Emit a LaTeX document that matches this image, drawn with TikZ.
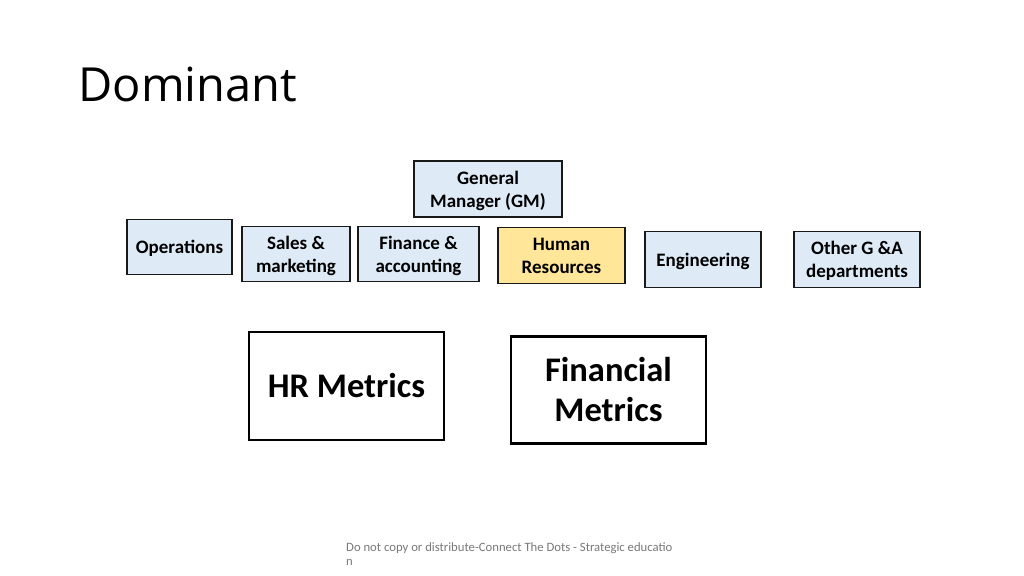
\documentclass[tikz,border=0pt]{standalone}
\usepackage{fontspec}
\setmainfont{Carlito}
\newfontfamily\titlefont{Open Sans}
\usetikzlibrary{positioning}
\tikzset{every node/.append style={align=center}}
\definecolor{deptcolor}{RGB}{222, 235, 247}
\definecolor{hrcolor}{RGB}{255, 230, 153}
\definecolor{edgecolor}{RGB}{25, 25, 25}
\definecolor{notecolor}{RGB}{120, 120, 120}

\begin{document}
\begin{tikzpicture}[x=1pt, y=-1pt,
    dept/.style={draw=edgecolor, line width=1.6pt, fill=deptcolor, inner sep=0pt, font=\fontsize{19}{23}\selectfont\bfseries, text depth=-1.5pt},
    metric/.style={draw=black, line width=2.4pt, fill=white, inner sep=0pt, font=\fontsize{34.5}{40}\selectfont\bfseries}]
    \useasboundingbox (0,0) rectangle (1024,575);

    % Title
    \node[anchor=base west, font=\fontsize{47}{50}\selectfont\titlefont] (title) at (75,102) {Dominant};

    % General manager
    \node[dept, minimum width=148, minimum height=56] (gm) at (488,189) {General\\Manager (GM)};

    % Departments
    \node[dept, minimum width=105, minimum height=55] (ops) at (179.5,247) {Operations};
    \node[dept, minimum width=108, minimum height=55] (sales) at (296,254) {Sales \&\\marketing};
    \node[dept, minimum width=121, minimum height=55] (fin) at (418.5,254) {Finance \&\\accounting};
    \node[dept, fill=hrcolor, minimum width=127, minimum height=56] (hr) at (561.5,255.5) {Human\\Resources};
    \node[dept, minimum width=116, minimum height=56] (eng) at (703,259.5) {Engineering};
    \node[dept, minimum width=126, minimum height=56] (other) at (857,259.5) {Other G \&A\\departments};

    % Metrics
    \node[metric, minimum width=195, minimum height=108] (hrmetrics) at (346.5,386) {HR Metrics};
    \node[metric, minimum width=195, minimum height=107] (finmetrics) at (608.5,390) {Financial\\Metrics};

    % Footer
    \node[anchor=north west, align=left, inner sep=0pt, text=notecolor, font=\fontsize{12.7}{14}\selectfont] (note) at (346,542) {Do not copy or distribute-Connect The Dots - Strategic educatio\\n};
\end{tikzpicture}
\end{document}
